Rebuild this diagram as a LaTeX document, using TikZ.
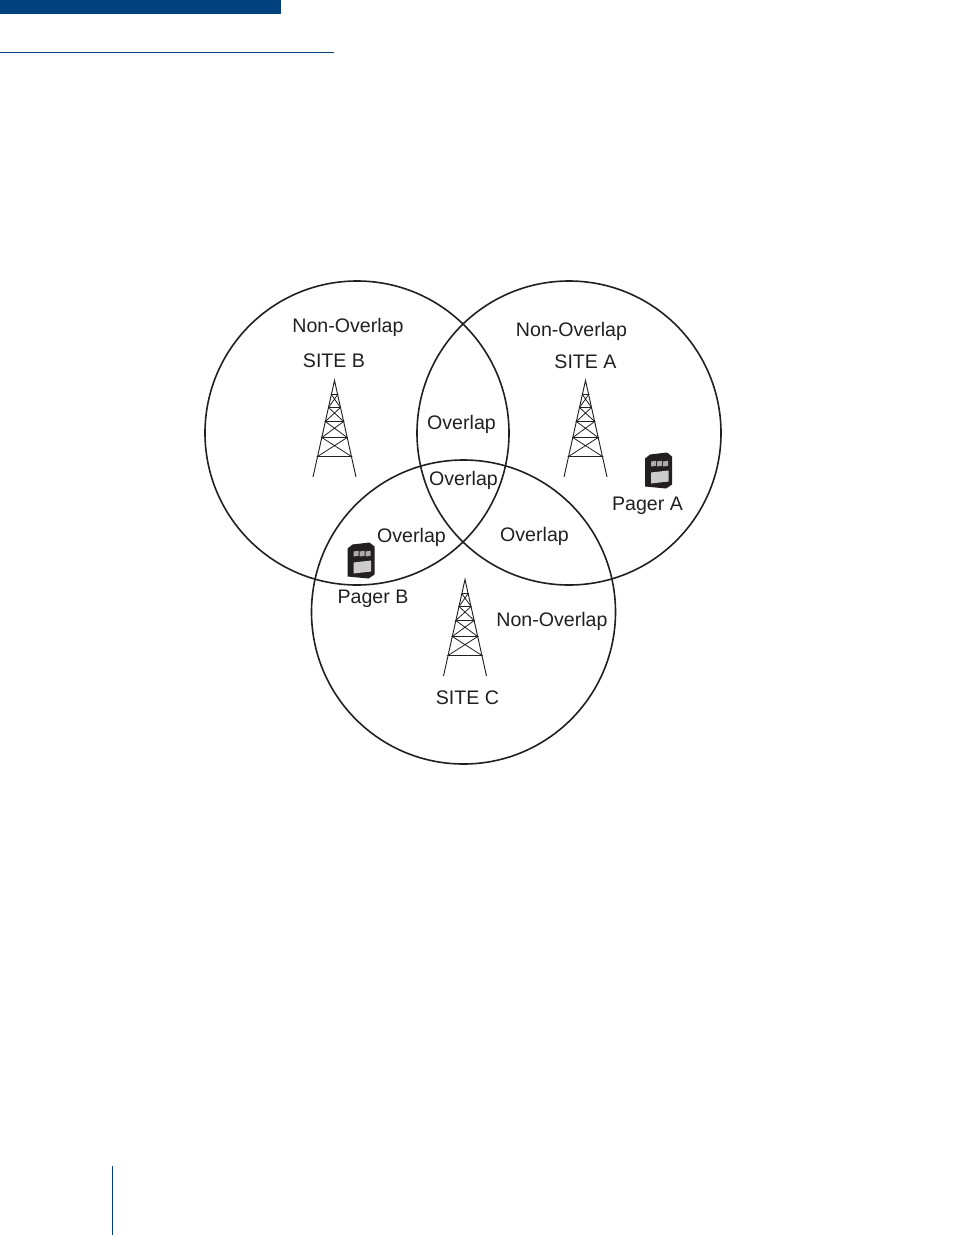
\documentclass[tikz,border=0pt]{standalone}
\usepackage{fontspec}
\usepackage{xcolor}
\setmainfont{Liberation Sans}
\usetikzlibrary{positioning}
\definecolor{headblue}{RGB}{0,64,124}
\definecolor{inkgray}{RGB}{35,31,32}
\tikzset{
    cell/.style={draw=inkgray, circle, line width=1.2pt, minimum size=228pt, inner sep=0pt},
    lbl/.style={text=inkgray, inner sep=0pt, font=\fontsize{14.7}{17}\selectfont},
    tower/.pic={
        \draw [inkgray, line width=.7pt] (-21.5,96.5) -- (0,0) -- (21.5,96.5);
        \draw [inkgray, line width=.6pt]
            (-3.2,14) -- (3.2,14) -- (-6,27) -- (6,27) -- (-3.2,14)
            (-6,27) -- (9.2,41) -- (-9.2,41) -- (6,27)
            (-9.2,41) -- (12.7,57) -- (-12.7,57) -- (9.2,41)
            (-12.7,57) -- (17,76) -- (-17,76) -- (12.7,57);
    },
    pager/.pic={
        \fill [inkgray] (-13,-12) -- (-8,-16) -- (9,-18) -- (14,-14) -- (14,14) -- (8,18) -- (-13,16) -- cycle;
        \fill [gray!40] (-7,2) -- (10.5,0) -- (10.5,11) -- (-7,13) -- cycle;
        \foreach \x in {-7,-1,5}
            \fill [gray!65] (\x,-9) -- ++(5,-.7) -- ++(0,5) -- ++(-5,.7) -- cycle;
    },
}

\begin{document}
\begin{tikzpicture}[x=.75pt, y=-.75pt]
    \useasboundingbox (0,0) rectangle (954,1235);

    % page furniture
    \fill [headblue] (0,0) rectangle (281,14);
    \draw [headblue, line width=.6pt] (0,52) -- (334,52);
    \draw [headblue, line width=.6pt] (112.5,1166) -- (112.5,1235);

    % coverage areas
    \node (cellB) [cell] at (357,433) {};
    \node (cellA) [cell] at (569,433) {};
    \node (cellC) [cell] at (463.5,612) {};

    % towers
    \pic at (334.5,380.5) {tower};
    \pic at (585.5,380.5) {tower};
    \pic at (465,579.5) {tower};

    % pagers
    \pic at (658,470.5) {pager};
    \pic at (360.5,560.5) {pager};

    \node (nonB) [lbl] at (348,327.5) {Non-Overlap};
    \node (siteB) [lbl] at (334,360.5) {SITE B};
    \node (nonA) [lbl] at (571.5,331) {Non-Overlap};
    \node (siteA) [lbl] at (585.5,361.5) {SITE A};
    \node (nonC) [lbl] at (552,621) {Non-Overlap};
    \node (siteC) [lbl] at (467.5,697.5) {SITE C};
    \node (overAB) [lbl] at (461.5,424.5) {Overlap};
    \node (overABC) [lbl] at (463.5,480.5) {Overlap};
    \node (overBC) [lbl] at (411.5,537.5) {Overlap};
    \node (overAC) [lbl] at (534.5,536.5) {Overlap};
    \node (pagerA) [lbl] at (647.5,505.5) {Pager A};
    \node (pagerB) [lbl] at (373,598.5) {Pager B};
\end{tikzpicture}
\end{document}
